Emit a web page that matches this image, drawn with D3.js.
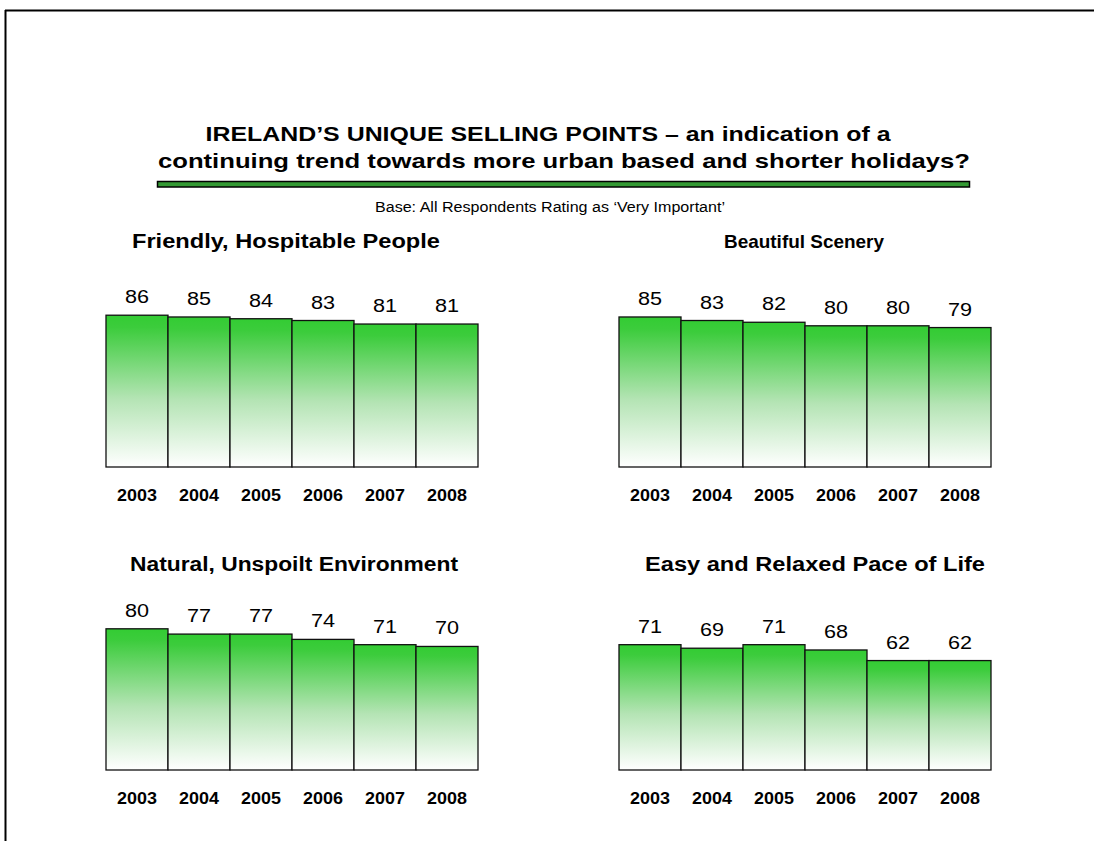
<!DOCTYPE html>
<html>
<head>
<meta charset="utf-8">
<script src="https://cdn.jsdelivr.net/npm/d3@7"></script>
<style>
  html, body { margin: 0; padding: 0; background: #fff; }
  svg { display: block; font-family: Arial, "Liberation Sans", sans-serif; }
</style>
</head>
<body>
<svg id="chart" width="1094" height="841"></svg>
<script>
// ---- data ----
const years = ["2003", "2004", "2005", "2006", "2007", "2008"];
const panelTitles = [
  "Friendly, Hospitable People",
  "Beautiful Scenery",
  "Natural, Unspoilt Environment",
  "Easy and Relaxed Pace of Life"
];
const friendlyPeople = [86, 85, 84, 83, 81, 81];
const beautifulScenery = [85, 83, 82, 80, 80, 79];
const naturalEnvironment = [80, 77, 77, 74, 71, 70];
const relaxedPace = [71, 69, 71, 68, 62, 62];
const mainTitle = [
  "IRELAND\u2019S UNIQUE SELLING POINTS \u2013 an indication of a",
  "continuing trend towards more urban based and shorter holidays?"
];
const baseNote = "Base: All Respondents Rating as \u2018Very Important\u2019";

const seriesList = [friendlyPeople, beautifulScenery, naturalEnvironment, relaxedPace];

// ---- layout ----
const svg = d3.select("#chart");
const W = 1094, H = 841;

// horizontally widen text (the original is a stretched slide)
function stretch(sel, k) {
  sel.each(function () {
    const len = this.getComputedTextLength();
    d3.select(this).attr("textLength", len * k).attr("lengthAdjust", "spacingAndGlyphs");
  });
  return sel;
}

// frame
svg.append("line").attr("x1", 5).attr("x2", W + 5).attr("y1", 10.5).attr("y2", 10.5)
  .attr("stroke", "#000").attr("stroke-width", 2);
svg.append("line").attr("x1", 5.5).attr("x2", 5.5).attr("y1", 10).attr("y2", H + 5)
  .attr("stroke", "#000").attr("stroke-width", 2);

// gradient
const defs = svg.append("defs");
const grad = defs.append("linearGradient").attr("id", "barGrad")
  .attr("x1", 0).attr("y1", 0).attr("x2", 0).attr("y2", 1);
grad.append("stop").attr("offset", "0%").attr("stop-color", "#33cc33");
grad.append("stop").attr("offset", "8%").attr("stop-color", "#3ccc3c");
grad.append("stop").attr("offset", "55%").attr("stop-color", "#b4e4b4");
grad.append("stop").attr("offset", "100%").attr("stop-color", "#ffffff");

// title
const t1 = svg.append("text").attr("x", 548).attr("y", 141).attr("text-anchor", "middle")
  .attr("font-size", 21).attr("font-weight", "bold").attr("fill", "#000").text(mainTitle[0]);
const t2 = svg.append("text").attr("x", 564).attr("y", 168).attr("text-anchor", "middle")
  .attr("font-size", 21).attr("font-weight", "bold").attr("fill", "#000").text(mainTitle[1]);
t1.attr("textLength", 685).attr("lengthAdjust", "spacingAndGlyphs");
t2.attr("textLength", 812).attr("lengthAdjust", "spacingAndGlyphs");

// green rule
svg.append("rect").attr("x", 157.5).attr("y", 181.5).attr("width", 812).attr("height", 5.5)
  .attr("fill", "#339933").attr("stroke", "#000").attr("stroke-width", 1.5);

svg.append("text").attr("x", 550).attr("y", 212).attr("text-anchor", "middle")
  .attr("font-size", 14).attr("fill", "#000").text(baseNote)
  .attr("textLength", 350).attr("lengthAdjust", "spacingAndGlyphs");

// panels
const panels = [
  { x0: 106, x1: 478, bottom: 467, titleX: 286, titleY: 248, titleW: 308, titleFs: 20 },
  { x0: 619, x1: 991, bottom: 467, titleX: 804, titleY: 248, titleW: 160, titleFs: 18.5 },
  { x0: 106, x1: 478, bottom: 770, titleX: 294, titleY: 571, titleW: 328, titleFs: 20 },
  { x0: 619, x1: 991, bottom: 770, titleX: 815, titleY: 571, titleW: 340, titleFs: 20 }
];
const unitPx = 1.765;

panels.forEach((p, i) => {
  const values = seriesList[i];
  const x = d3.scaleBand().domain(years).range([p.x0, p.x1]).padding(0);
  const y = d3.scaleLinear().domain([0, 100]).range([p.bottom, p.bottom - 100 * unitPx]);
  const g = svg.append("g");

  g.append("text").attr("x", p.titleX).attr("y", p.titleY).attr("text-anchor", "middle")
    .attr("font-size", p.titleFs).attr("font-weight", "bold").attr("fill", "#000").text(panelTitles[i])
    .attr("textLength", p.titleW).attr("lengthAdjust", "spacingAndGlyphs");

  g.selectAll("rect.bar").data(values).join("rect").attr("class", "bar")
    .attr("x", (d, j) => x(years[j]))
    .attr("y", d => y(d))
    .attr("width", x.bandwidth())
    .attr("height", d => y(0) - y(d))
    .attr("fill", "url(#barGrad)")
    .attr("stroke", "#111").attr("stroke-width", 1.3);

  const vals = g.selectAll("text.val").data(values).join("text").attr("class", "val")
    .attr("x", (d, j) => x(years[j]) + x.bandwidth() / 2)
    .attr("y", d => y(d) - 12)
    .attr("text-anchor", "middle").attr("font-size", 18).attr("fill", "#000")
    .text(d => d);
  stretch(vals, 1.2);

  const axis = d3.axisBottom(x).tickSize(0).tickPadding(0);
  const ag = g.append("g").attr("transform", `translate(0,${p.bottom})`).call(axis);
  ag.select(".domain").remove();
  const yt = ag.selectAll("text").attr("dy", null).attr("y", 34)
    .attr("font-size", 16).attr("font-weight", "bold").attr("fill", "#000")
    .attr("font-family", "Arial, 'Liberation Sans', sans-serif");
  stretch(yt, 1.12);
});
</script>
</body>
</html>
